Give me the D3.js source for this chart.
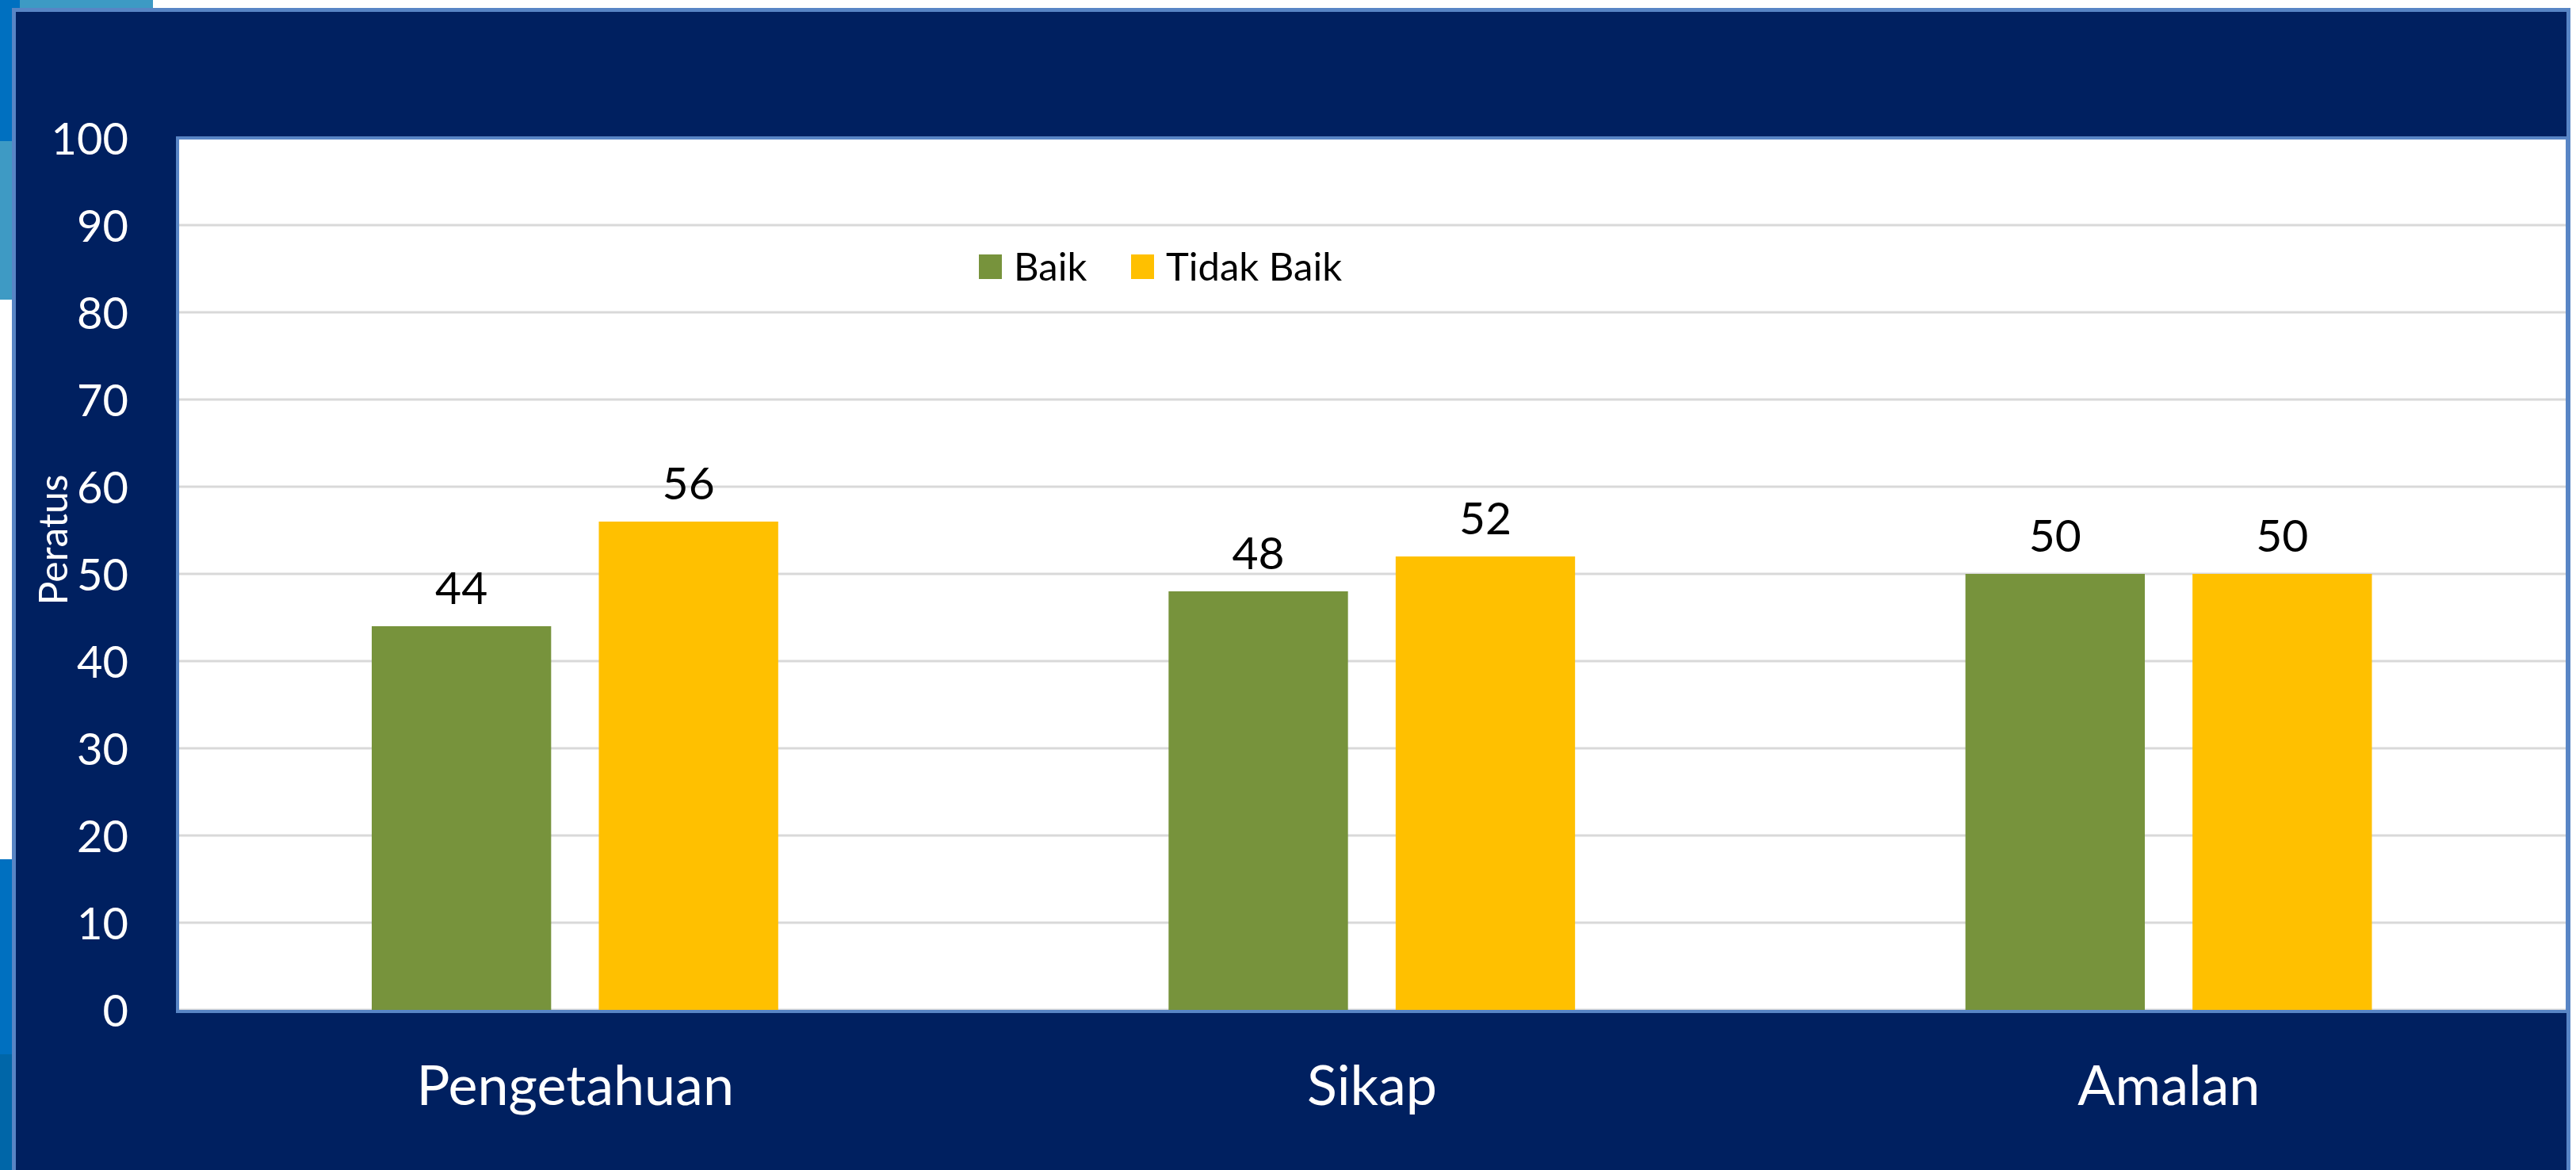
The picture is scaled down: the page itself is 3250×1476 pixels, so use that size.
<!DOCTYPE html>
<html>
<head>
<meta charset="utf-8">
<script src="https://cdn.jsdelivr.net/npm/d3@7"></script>
<style>
  html, body { margin: 0; padding: 0; background: #ffffff; }
  svg { display: block; }
  text { font-family: Lato, "Open Sans", sans-serif; }
</style>
</head>
<body>
<svg id="chart" width="3250" height="1476"></svg>
<script>
// Chart data
const categories = ["Pengetahuan", "Sikap", "Amalan"];
const seriesNames = ["Baik", "Tidak Baik"];
const baikValues = [44, 48, 50];
const tidakBaikValues = [56, 52, 50];
const yTickValues = [0, 10, 20, 30, 40, 50, 60, 70, 80, 90, 100];
const yAxisTitle = "Peratus";

const seriesColors = { "Baik": "#77933c", "Tidak Baik": "#ffc000" };
const navy = "#002060";
const frameBlue = "#5885c5";

const rows = categories.map((c, i) => ({
  category: c,
  values: [
    { series: "Baik", value: baikValues[i] },
    { series: "Tidak Baik", value: tidakBaikValues[i] }
  ]
}));

const svg = d3.select("#chart");

// Slide background pieces along the left and top edges
const edge = svg.append("g");
edge.append("rect").attr("x", 0).attr("y", 0).attr("width", 16).attr("height", 1476).attr("fill", "#0070c0");
edge.append("rect").attr("x", 0).attr("y", 178).attr("width", 16).attr("height", 200).attr("fill", "#3e9ac4");
edge.append("rect").attr("x", 0).attr("y", 378).attr("width", 16).attr("height", 706).attr("fill", "#ffffff");
edge.append("rect").attr("x", 0).attr("y", 1330).attr("width", 16).attr("height", 146).attr("fill", "#0066a8");
edge.append("rect").attr("x", 0).attr("y", 0).attr("width", 25).attr("height", 12).attr("fill", "#0070c0");
edge.append("rect").attr("x", 25).attr("y", 0).attr("width", 168).attr("height", 12).attr("fill", "#3d9ac4");

// Navy frame
svg.append("rect")
  .attr("x", 17.5).attr("y", 12.5)
  .attr("width", 3223).attr("height", 1520)
  .attr("fill", navy)
  .attr("stroke", frameBlue).attr("stroke-width", 5);

// Scales
const plotLeft = 224, plotRight = 3239, plotTop = 174, plotBottom = 1274;
const y = d3.scaleLinear().domain([0, 100]).range([plotBottom, plotTop]);
const x0 = d3.scaleBand().domain(categories).range([223, 3239]);
const x1 = d3.scaleBand().domain(seriesNames)
  .range([x0.bandwidth() * 0.2447, x0.bandwidth() * 0.7548])
  .paddingInner(0.21);

// Plot area background
svg.append("rect")
  .attr("x", plotLeft).attr("y", plotTop)
  .attr("width", plotRight - plotLeft).attr("height", plotBottom - plotTop)
  .attr("fill", "#ffffff");

// Gridlines
svg.append("g")
  .selectAll("line")
  .data(yTickValues)
  .join("line")
  .attr("x1", plotLeft).attr("x2", plotRight)
  .attr("y1", d => y(d)).attr("y2", d => y(d))
  .attr("stroke", "#d9d9d9").attr("stroke-width", 3);

// Bars
const groups = svg.append("g")
  .selectAll("g")
  .data(rows)
  .join("g")
  .attr("transform", d => `translate(${x0(d.category)},0)`);

groups.selectAll("rect")
  .data(d => d.values)
  .join("rect")
  .attr("x", d => x1(d.series))
  .attr("y", d => y(d.value))
  .attr("width", x1.bandwidth())
  .attr("height", d => y(0) - y(d.value))
  .attr("fill", d => seriesColors[d.series]);

// Value labels
groups.selectAll("text")
  .data(d => d.values)
  .join("text")
  .attr("x", d => x1(d.series) + x1.bandwidth() / 2)
  .attr("y", d => y(d.value) - 28)
  .attr("text-anchor", "middle")
  .attr("font-size", 57)
  .attr("fill", "#000000")
  .text(d => d.value);

// Plot area border
svg.append("rect")
  .attr("x", plotLeft).attr("y", plotTop)
  .attr("width", plotRight - plotLeft).attr("height", plotBottom - plotTop + 2)
  .attr("fill", "none")
  .attr("stroke", frameBlue).attr("stroke-width", 4);

// Y axis
const yAxis = svg.append("g")
  .attr("transform", `translate(${plotLeft - 2},0)`)
  .call(d3.axisLeft(y).tickValues(yTickValues).tickSize(0).tickPadding(60));
yAxis.select(".domain").remove();
yAxis.selectAll("text")
  .attr("font-family", "Lato, 'Open Sans', sans-serif")
  .attr("font-size", 56)
  .attr("fill", "#ffffff")
  .attr("dy", "0.36em");

// X axis
const xAxis = svg.append("g")
  .attr("transform", `translate(0,${plotBottom})`)
  .call(d3.axisBottom(x0).tickSize(0));
xAxis.select(".domain").remove();
xAxis.selectAll("text")
  .attr("font-family", "Lato, 'Open Sans', sans-serif")
  .attr("font-size", 70)
  .attr("fill", "#ffffff")
  .attr("y", 120)
  .attr("dy", 0);

// Y axis title
svg.append("text")
  .attr("transform", "translate(85,681) rotate(-90)")
  .attr("text-anchor", "middle")
  .attr("font-size", 50)
  .attr("fill", "#ffffff")
  .text(yAxisTitle);

// Legend
const legendItems = [
  { name: "Baik", x: 1235 },
  { name: "Tidak Baik", x: 1427 }
];
const legend = svg.append("g")
  .selectAll("g")
  .data(legendItems)
  .join("g")
  .attr("transform", d => `translate(${d.x},321)`);
legend.append("rect")
  .attr("width", 29).attr("height", 31)
  .attr("fill", d => seriesColors[d.name]);
legend.append("text")
  .attr("x", 44).attr("y", 33)
  .attr("font-size", 49)
  .attr("fill", "#000000")
  .text(d => d.name);
</script>
</body>
</html>
